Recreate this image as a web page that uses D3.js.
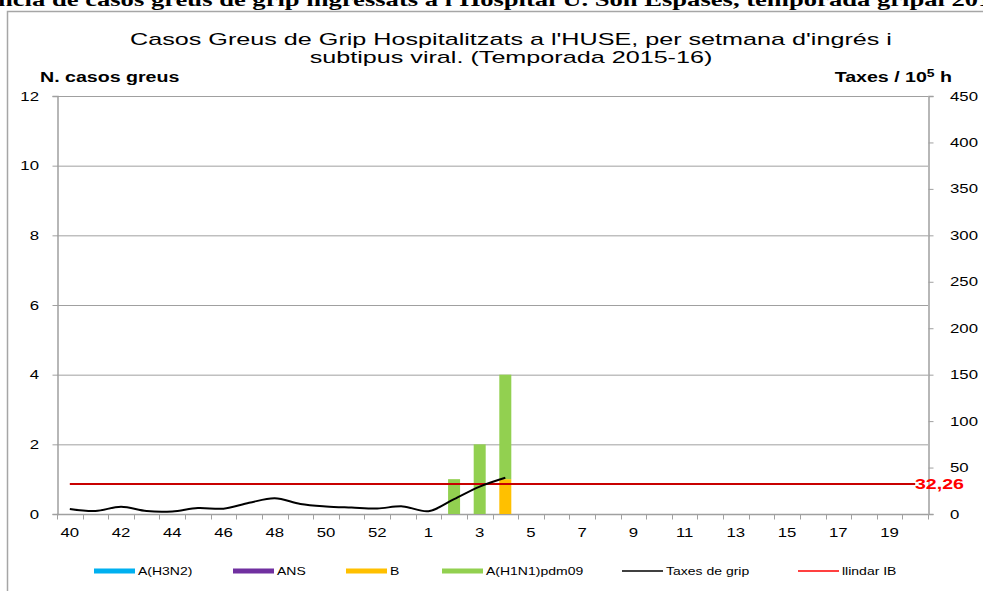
<!DOCTYPE html>
<html>
<head>
<meta charset="utf-8">
<script src="https://cdn.jsdelivr.net/npm/d3@7"></script>
<style>
  body { margin: 0; background: #fff; }
  svg { display: block; }
</style>
</head>
<body>
<div class="area"></div>
<script>
// setmanes de la temporada 2015-16
var weeks = ['40','41','42','43','44','45','46','47','48','49','50','51','52','53',
  '1','2','3','4','5','6','7','8','9','10','11','12','13','14','15','16','17','18','19','20'];
var h3n2 = [0,0,0,0,0,0,0,0,0,0,0,0,0,0, 0,0,0,0, 0,0,0,0,0,0,0,0,0,0,0,0,0,0,0,0];
var ans  = [0,0,0,0,0,0,0,0,0,0,0,0,0,0, 0,0,0,0, 0,0,0,0,0,0,0,0,0,0,0,0,0,0,0,0];
var fluB = [0,0,0,0,0,0,0,0,0,0,0,0,0,0, 0,0,0,1, 0,0,0,0,0,0,0,0,0,0,0,0,0,0,0,0];
var h1n1 = [0,0,0,0,0,0,0,0,0,0,0,0,0,0, 0,1,2,3, 0,0,0,0,0,0,0,0,0,0,0,0,0,0,0,0];
// taxes per 10^5 h (fins a la setmana 4)
var taxes = [5.4, 3.2, 7.9, 3.2, 2.8, 6.5, 5.7, 12, 17, 10.8, 8.2, 7, 6, 8.2, 3, 16, 29.5, 39];
var llindar = 32.26;
var leftTicks = [0, 2, 4, 6, 8, 10, 12];
var rightTicks = [0, 50, 100, 150, 200, 250, 300, 350, 400, 450];
var seriesNames = ['A(H3N2)', 'ANS', 'B', 'A(H1N1)pdm09'];
var seriesColors = ['#00b0f0', '#7030a0', '#ffc000', '#92d050'];

var W = 983, H = 591;
var mLeft = 57, mRight = 928, mTop = 96, mBottom = 514;
var SX = 1.4; // la imatge original esta estirada en horitzontal

var svg = d3.select('.area').append('svg')
    .attr('width', W)
    .attr('height', H);

// text estirat horitzontalment
function label(x, y, txt, size, anchor, weight, fam, sx) {
  return svg.append('text')
      .attr('transform', 'translate(' + x + ',' + y + ') scale(' + (sx || SX) + ',1)')
      .text(txt)
      .attr('text-anchor', anchor || 'start')
      .style('font-size', size + 'px')
      .attr('font-family', fam || 'Liberation Sans')
      .attr('font-weight', weight || 'normal')
      .attr('fill', 'black');
}

// titol del document (tallat)
label(-2, 6, "ncia de casos greus de grip ingressats a l'Hospital U. Son Espases, temporada gripal 2015-16",
    19, 'start', 'bold', 'Liberation Serif');

// marc del grafic
svg.append('path')
    .attr('d', 'M7.5,' + H + 'V11.5H' + W)
    .attr('fill', 'none')
    .style('stroke', '#a6a6a6')
    .style('stroke-width', 1.5);

var x = d3.scaleBand().domain(weeks).range([mLeft, mRight]);
var y = d3.scaleLinear().domain([0, 12]).range([mBottom, mTop]);
var y2 = d3.scaleLinear().domain([0, 450]).range([mBottom, mTop]);

// graella
svg.append('g').selectAll('line')
    .data(leftTicks.slice(1))
    .join('line')
    .attr('x1', mLeft).attr('x2', mRight)
    .attr('y1', function(d) { return y(d) + 0.5; })
    .attr('y2', function(d) { return y(d) + 0.5; })
    .style('stroke', '#a0a0a0')
    .style('stroke-width', 1);

// eixos (linies i marques)
var gl = svg.append('g')
    .attr('transform', 'translate(' + (mLeft + 0.5) + ',0)')
    .call(d3.axisLeft(y).tickValues(leftTicks).tickSize(5).tickFormat(''));
var gr = svg.append('g')
    .attr('transform', 'translate(' + (mRight + 0.5) + ',0)')
    .call(d3.axisRight(y2).tickValues(rightTicks).tickSize(5).tickFormat(''));
var gx = svg.append('g')
    .attr('transform', 'translate(0,' + (mBottom + 0.5) + ')')
    .call(d3.axisBottom(x).tickSize(0).tickFormat(''));
gx.append('g').selectAll('line')
    .data(d3.range(weeks.length + 1))
    .join('line')
    .attr('x1', function(i) { return Math.round(mLeft + i * x.step()) + 0.5; })
    .attr('x2', function(i) { return Math.round(mLeft + i * x.step()) + 0.5; })
    .attr('y1', 0).attr('y2', 5)
    .style('stroke', '#a0a0a0');

[gl, gr, gx].forEach(function(g) {
  g.select('.domain').style('stroke', '#a0a0a0').style('stroke-width', 1.5);
  g.selectAll('.tick line').style('stroke', '#a0a0a0');
});
gx.select('.domain').attr('d', 'M' + mLeft + ',0H' + mRight);

// etiquetes dels eixos
leftTicks.forEach(function(t) { label(39, y(t) + 4.5, String(t), 12, 'end'); });
rightTicks.forEach(function(t) { label(950, y2(t) + 4.5, String(t), 12, 'start'); });
weeks.forEach(function(w, i) {
  if (i % 2 === 0) label(x(w) + x.bandwidth() / 2, 537, w, 12, 'middle');
});

// barres apilades
var table = weeks.map(function(w, i) {
  return { week: w, 'A(H3N2)': h3n2[i], 'ANS': ans[i], 'B': fluB[i], 'A(H1N1)pdm09': h1n1[i] };
});
var stack = d3.stack().keys(seriesNames)(table);
var bw = 12;
svg.append('g').selectAll('g')
    .data(stack)
    .join('g')
    .attr('fill', function(d, i) { return seriesColors[i]; })
    .selectAll('rect')
    .data(function(d) { return d.filter(function(p) { return p[1] > p[0]; }); })
    .join('rect')
    .attr('x', function(d) { return x(d.data.week) + x.bandwidth() / 2 - bw / 2; })
    .attr('y', function(d) { return y(d[1]); })
    .attr('width', bw)
    .attr('height', function(d) { return y(d[0]) - y(d[1]); });

// llindar
svg.append('line')
    .attr('x1', x(weeks[0]) + x.bandwidth() / 2)
    .attr('x2', x(weeks[weeks.length - 1]) + x.bandwidth() / 2)
    .attr('y1', y2(llindar))
    .attr('y2', y2(llindar))
    .style('stroke', '#c80000')
    .style('stroke-width', 2);

// taxes
var line = d3.line()
    .x(function(d, i) { return x(weeks[i]) + x.bandwidth() / 2; })
    .y(function(d) { return y2(d); })
    .curve(d3.curveCatmullRom.alpha(0.5));
svg.append('path')
    .datum(taxes)
    .attr('d', line)
    .attr('fill', 'none')
    .style('stroke', 'black')
    .style('stroke-width', 2);

label(964, y2(llindar) + 5, '32,26', 14, 'end', 'bold').attr('fill', '#ff0000');

// titols
label(511, 45, "Casos  Greus de Grip Hospitalitzats a l'HUSE, per setmana  d'ingrés i", 17, 'middle', null, null, 1.48);
label(511, 63, 'subtipus viral. (Temporada 2015-16)', 17, 'middle', null, null, 1.48);

label(40, 82, 'N. casos  greus', 14, 'start', 'bold');
var tx = label(952, 82, '', 14, 'end', 'bold');
tx.append('tspan').text('Taxes / 10');
tx.append('tspan').text('5').attr('dy', -5).style('font-size', '10px');
tx.append('tspan').text(' h').attr('dy', 5);

// llegenda
var legend = [
  { name: 'A(H3N2)', color: seriesColors[0], x: 94, type: 'bar' },
  { name: 'ANS', color: seriesColors[1], x: 233, type: 'bar' },
  { name: 'B', color: seriesColors[2], x: 346, type: 'bar' },
  { name: 'A(H1N1)pdm09', color: seriesColors[3], x: 442, type: 'bar' },
  { name: 'Taxes  de grip', color: 'black', x: 622, type: 'line' },
  { name: 'llindar IB', color: '#ff0000', x: 798, type: 'line' }
];
var lg = svg.append('g').selectAll('g')
    .data(legend)
    .join('g')
    .attr('transform', function(d) { return 'translate(' + d.x + ',571)'; });
lg.append('line')
    .attr('x1', 0).attr('x2', 41)
    .attr('y1', 0).attr('y2', 0)
    .style('stroke', function(d) { return d.color; })
    .style('stroke-width', function(d) { return d.type === 'bar' ? 5 : 1.5; });
lg.append('text')
    .attr('transform', 'translate(44,4) scale(' + SX + ',1)')
    .text(function(d) { return d.name; })
    .style('font-size', '10px')
    .attr('font-family', 'Liberation Sans')
    .attr('fill', 'black');
</script>
</body>
</html>
